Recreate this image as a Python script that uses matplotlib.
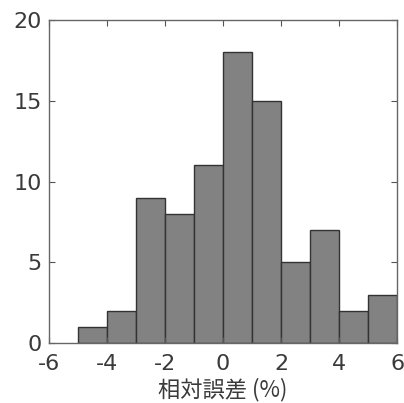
import numpy as np
import matplotlib
matplotlib.use('Agg')
import matplotlib.pyplot as plt

# Bin edges and counts
bin_edges = [-5, -4, -3, -2, -1, 0, 1, 2, 3, 4, 5, 6]
counts = [1, 2, 9, 8, 11, 18, 15, 5, 7, 2, 3]
x_ticks = [-6, -4, -2, 0, 2, 4, 6]
y_ticks = [0, 5, 10, 15, 20]

plt.rcParams['font.family'] = ['DejaVu Sans', 'Noto Sans CJK JP']

fig = plt.figure(figsize=(4.04, 4.03), dpi=100)
ax = fig.add_axes([0.121, 0.149, 0.862, 0.801])

ax.bar(bin_edges[:-1], counts, width=np.diff(bin_edges), align='edge',
       color='#828282', edgecolor='#333333', linewidth=1.0)

ax.set_xlim(-6, 6)
ax.set_ylim(0, 20)
ax.set_xticks(x_ticks)
ax.set_yticks(y_ticks)
ax.set_xticklabels([str(t) for t in x_ticks])
ax.tick_params(direction='in', top=True, right=True, length=4, width=0.8,
               labelsize=16, colors='#555555', labelcolor='#3a3a3a')
ax.tick_params(axis='x', pad=8)
ax.tick_params(axis='y', pad=5)
for s in ax.spines.values():
    s.set_color('#666666')
    s.set_linewidth(1.0)

ax.set_xlabel('相対誤差 (%)', fontsize=16, color='#3a3a3a',
              family=['Noto Sans CJK JP', 'DejaVu Sans'], labelpad=2.5)

fig.savefig('out.png', dpi=100)
